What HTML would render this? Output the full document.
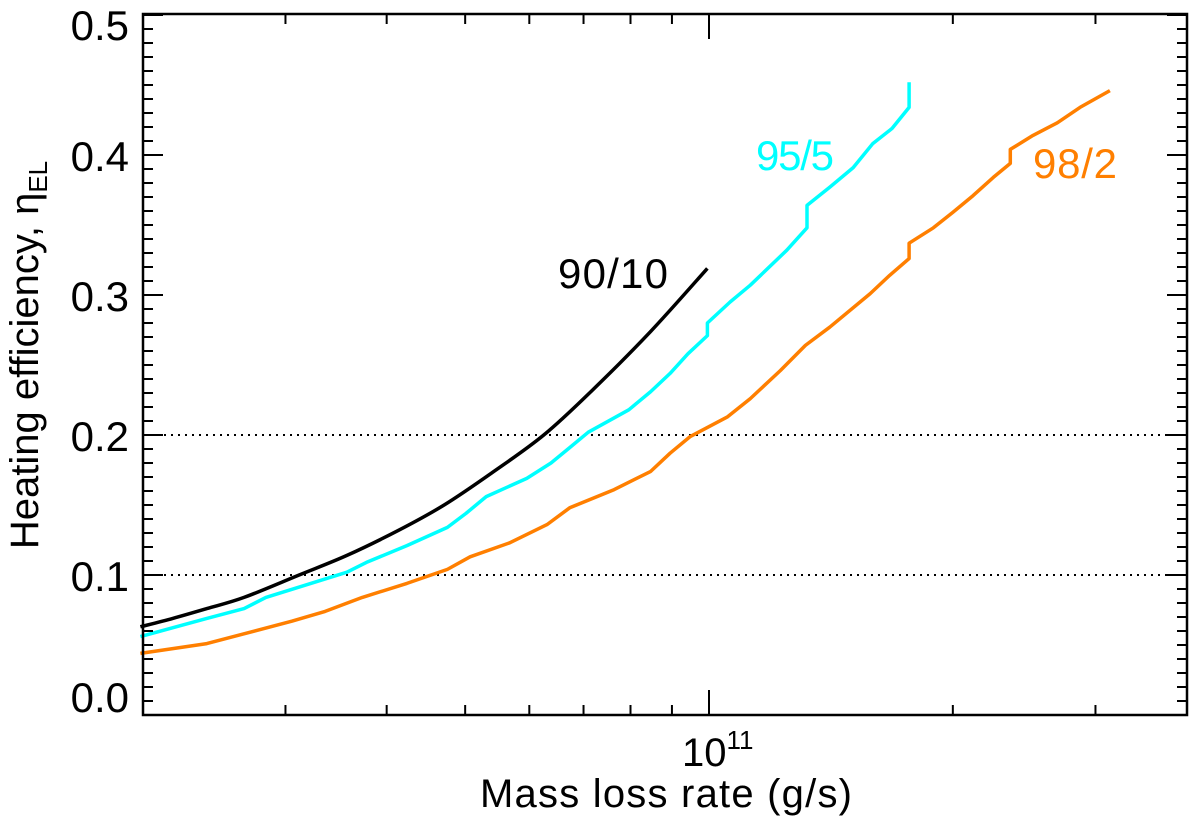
<!DOCTYPE html>
<html><head><meta charset="utf-8"><style>
body{margin:0;background:#fff;}
svg{display:block;font-family:"Liberation Sans",sans-serif;}
</style></head><body>
<svg id="chart" width="1200" height="833" viewBox="0 0 1200 833" xmlns="http://www.w3.org/2000/svg">
<g id="grid"></g>
<g id="series"></g>
<g id="axes"></g>
<text x="558" y="288" font-size="42" fill="#000" textLength="110">90/10</text>
<text x="756" y="170" font-size="42" fill="#00ffff" textLength="78">95/5</text>
<text x="1033" y="178" font-size="42" fill="#ff7f00" textLength="84">98/2</text>
<text x="666" y="807" font-size="40" text-anchor="middle" textLength="372">Mass loss rate (g/s)</text>
<text transform="translate(38,355) rotate(-90)" font-size="40" text-anchor="middle">Heating efficiency, η<tspan font-size="26" dy="9">EL</tspan></text>
</svg>
<script>
// log10 mass loss rate (g/s) and efficiency values
const blackLogM = [10.298,10.338,10.380,10.426,10.494,10.553,10.617,10.673,10.732,10.796,10.856,10.928,10.998];
const blackEta  = [0.063,0.069,0.076,0.084,0.100,0.114,0.132,0.150,0.173,0.200,0.232,0.274,0.319];
const cyanLogM = [10.298,10.380,10.426,10.453,10.553,10.577,10.627,10.677,10.700,10.725,10.775,10.805,10.828,10.851,10.901,10.928,10.952,10.974,10.998,10.998,11.026,11.051,11.096,11.121,11.121,11.149,11.178,11.202,11.226,11.247,11.247];
const cyanEta  = [0.056,0.069,0.076,0.084,0.102,0.109,0.121,0.134,0.144,0.156,0.169,0.180,0.191,0.202,0.218,0.231,0.244,0.258,0.271,0.280,0.295,0.307,0.332,0.348,0.364,0.377,0.391,0.408,0.419,0.434,0.452];
const orangeLogM = [10.298,10.380,10.485,10.526,10.572,10.627,10.677,10.705,10.754,10.800,10.828,10.883,10.928,10.952,10.977,11.023,11.051,11.088,11.119,11.149,11.199,11.223,11.247,11.247,11.277,11.301,11.326,11.351,11.372,11.372,11.400,11.430,11.458,11.495];
const orangeEta  = [0.044,0.051,0.067,0.074,0.084,0.094,0.104,0.113,0.123,0.136,0.148,0.161,0.174,0.187,0.199,0.213,0.226,0.246,0.264,0.277,0.301,0.314,0.326,0.337,0.348,0.359,0.371,0.384,0.394,0.404,0.414,0.423,0.434,0.446];
const yTicks = [0.0,0.1,0.2,0.3,0.4,0.5];
const yTickLabels = ["0.0","0.1","0.2","0.3","0.4","0.5"];
const refLines = [0.1,0.2];

const L=143,R=1187,T=14,B=715;
const xs = lm => 709 + (lm-11)*810;
const ys = v => B - v*1400;
const NS="http://www.w3.org/2000/svg";
function mk(tag, parent, attrs){const e=document.createElementNS(NS,tag);for(const k in attrs)e.setAttribute(k,attrs[k]);parent.appendChild(e);return e;}
const grid=document.getElementById('grid'),ser=document.getElementById('series'),ax=document.getElementById('axes');

refLines.forEach(v=>{
  const l=mk('line',grid,{x1:L,x2:R,y1:ys(v),y2:ys(v),stroke:'#000','stroke-width':2,'stroke-dasharray':'2,5'});
  
  
});

function drawSeries(xsArr, ysArr, color, name, smooth){
  const pts=xsArr.map((x,i)=>[xs(x),ys(ysArr[i])]);
  let d='M'+pts[0][0].toFixed(1)+','+pts[0][1].toFixed(1);
  if(smooth){
    for(let i=0;i<pts.length-1;i++){
      const p0=pts[Math.max(0,i-1)],p1=pts[i],p2=pts[i+1],p3=pts[Math.min(pts.length-1,i+2)];
      const c1=[p1[0]+(p2[0]-p0[0])/6,p1[1]+(p2[1]-p0[1])/6];
      const c2=[p2[0]-(p3[0]-p1[0])/6,p2[1]-(p3[1]-p1[1])/6];
      d+=' C'+c1.join(',')+' '+c2.join(',')+' '+p2.join(',');
    }
  } else {
    for(let i=1;i<pts.length;i++) d+=' L'+pts[i][0].toFixed(1)+','+pts[i][1].toFixed(1);
  }
  const p=mk('path',ser,{d:d,fill:'none',stroke:color,'stroke-width':3.5,'stroke-linejoin':'round'});
  
  
}
drawSeries(orangeLogM,orangeEta,'#ff7f00','series-98-2',false);
drawSeries(cyanLogM,cyanEta,'#00ffff','series-95-5',false);
drawSeries(blackLogM,blackEta,'#000','series-90-10',true);

const frame=mk('rect',ax,{x:L,y:T,width:R-L,height:B-T,fill:'none',stroke:'#000','stroke-width':2.5});



// y ticks
for(let i=0;i<=50;i++){
  const v=i/100, y=ys(v), major=i%10===0, len=major?20:10;
  mk('line',ax,{x1:L,x2:L+len,y1:y,y2:y,stroke:'#000','stroke-width':2});
  mk('line',ax,{x1:R,x2:R-len,y1:y,y2:y,stroke:'#000','stroke-width':2});
}
yTicks.forEach((v,i)=>{
  let y=ys(v)+16; if(i===0)y=ys(v)-3; if(i===yTicks.length-1)y=ys(v)+25;
  const t=mk('text',ax,{x:129,y:y,'font-size':42,'text-anchor':'end'});
  t.textContent=yTickLabels[i];
  
  
});
// x ticks
const minors=[3e10,4e10,5e10,6e10,7e10,8e10,9e10,2e11,3e11];
minors.forEach(m=>{const x=xs(Math.log10(m));
  mk('line',ax,{x1:x,x2:x,y1:B,y2:B-10,stroke:'#000','stroke-width':2});
  mk('line',ax,{x1:x,x2:x,y1:T,y2:T+10,stroke:'#000','stroke-width':2});});
const xm=xs(11);
mk('line',ax,{x1:xm,x2:xm,y1:B,y2:B-25,stroke:'#000','stroke-width':2});
mk('line',ax,{x1:xm,x2:xm,y1:T,y2:T+25,stroke:'#000','stroke-width':2});
const xl=mk('text',ax,{x:xm-27,y:766,'font-size':40});
xl.innerHTML='10<tspan font-size="26" dy="-17">11</tspan>';


</script>
</body></html>
